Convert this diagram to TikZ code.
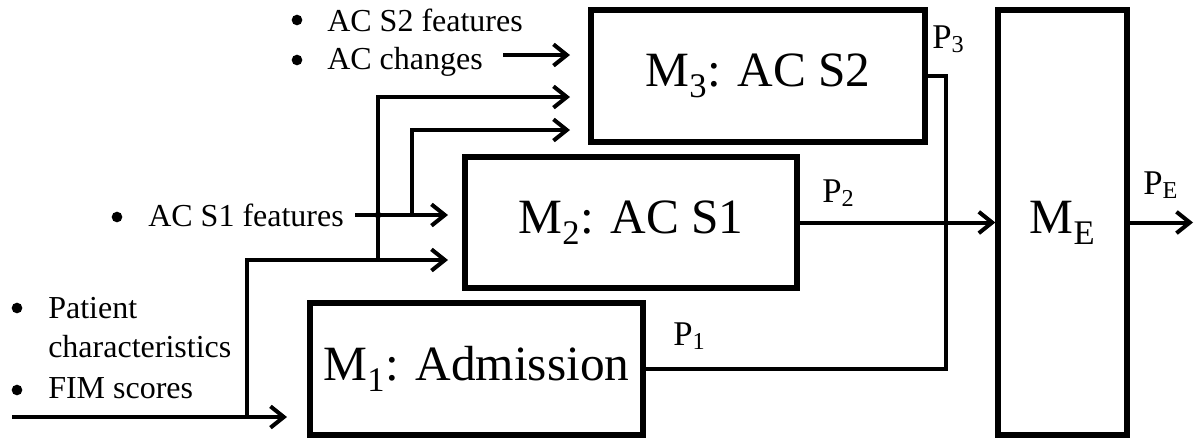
\documentclass[tikz,border=0pt]{standalone}
\usepackage{fontspec}
\setmainfont{Liberation Serif}
\usetikzlibrary{arrows.meta}
\begin{document}
\begin{tikzpicture}[x=0.75pt,y=-0.75pt,
  model/.style={draw,line width=4pt,inner sep=0pt,font=\fontsize{37}{40}\selectfont},
  lbl/.style={inner sep=0pt,anchor=base west,font=\fontsize{24}{28}\selectfont},
  plbl/.style={inner sep=0pt,anchor=base west,font=\fontsize{26}{30}\selectfont},
  conn/.style={line width=3pt},
  arr/.style={conn,-{Straight Barb[length=10pt,width=16pt]}},
  bul/.style={circle,fill,inner sep=0pt,minimum size=8pt}
]
\useasboundingbox (0,0) rectangle (1204,440);
% model boxes
\node[model,minimum width=250.5pt,minimum height=99pt] (m3) at (758,76) {M\textsubscript{3}: AC S2};
\node[model,minimum width=249pt,minimum height=98.25pt] (m2) at (631,222.5) {M\textsubscript{2}: AC S1};
\node[model,minimum width=249.75pt,minimum height=99pt] (m1) at (476.5,369) {M\textsubscript{1}: Admission};
\node[model,minimum width=96.75pt,minimum height=318.75pt] (me) at (1062.5,222.5) {M\textsubscript{E}};
% input texts
\node[lbl] (t2a) at (327,31) {AC S2 features};
\node[lbl] (t2b) at (327,69) {AC changes};
\node[lbl] (t1) at (148,226) {AC S1 features};
\node[lbl] (t0a) at (48,318) {Patient};
\node[lbl] (t0b) at (48,357) {characteristics};
\node[lbl] (t0c) at (48,398) {FIM scores};
\node[bul] (b1) at (297,20) {};
\node[bul] (b2) at (297,60) {};
\node[bul] (b3) at (117,217) {};
\node[bul] (b4) at (17,308) {};
\node[bul] (b5) at (17,390) {};
% output labels
\node[plbl] (p3) at (932,48) {P\textsubscript{3}};
\node[plbl] (p2) at (822,202) {P\textsubscript{2}};
\node[plbl] (p1) at (673,345) {P\textsubscript{1}};
\node[plbl] (pe) at (1143,194) {P\textsubscript{E}};
% coordinates
\coordinate (c3) at (946,222.5);
\coordinate (out) at (1193,222.5);
\coordinate (s0) at (12,417);
\coordinate (a1) at (287,417);
\coordinate (j0) at (247,417);
\coordinate (a2) at (448,260);
\coordinate (j1) at (378,260);
\coordinate (a3) at (570,97);
\coordinate (s1) at (355,215);
\coordinate (a4) at (448,215);
\coordinate (j2) at (412,215);
\coordinate (a5) at (570,130);
\coordinate (s2) at (503,55);
\coordinate (a6) at (570,55);
% outputs
\draw[conn] (m3.east) -| (c3);
\draw[conn] (m1.east) -| (c3);
\draw[arr] (m2.east) -- (me.west);
\draw[arr] (me.east) -- (out);
% inputs
\draw[arr] (s0) -- (a1);
\draw[arr] (j0) |- (a2);
\draw[arr] (j1) |- (a3);
\draw[arr] (s1) -- (a4);
\draw[arr] (j2) |- (a5);
\draw[arr] (s2) -- (a6);
\node[bul,minimum size=5pt] (x1) at (378,215) {};
\end{tikzpicture}
\end{document}
